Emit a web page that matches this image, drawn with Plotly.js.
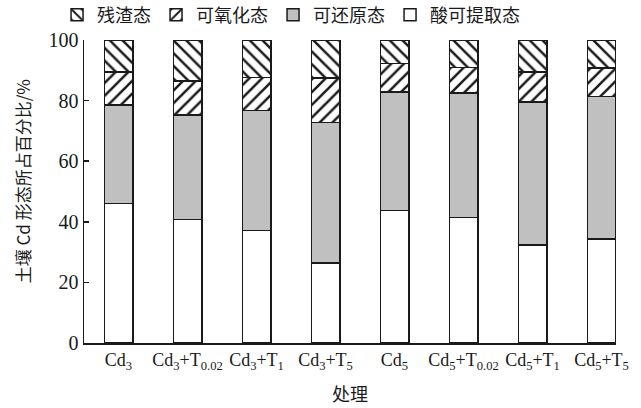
<!DOCTYPE html>
<html>
<head>
<meta charset="utf-8">
<script src="https://cdn.plot.ly/plotly-3.0.1.min.js"></script>
<style>
  html, body { margin: 0; padding: 0; background: #fff; }
  #chart { width: 641px; height: 408px; }
</style>
</head>
<body>
<div id="chart"></div>
<script>
// Treatments (x categories)
const treatments = [
  'Cd<sub>3</sub>',
  'Cd<sub>3</sub>+T<sub>0.02</sub>',
  'Cd<sub>3</sub>+T<sub>1</sub>',
  'Cd<sub>3</sub>+T<sub>5</sub>',
  'Cd<sub>5</sub>',
  'Cd<sub>5</sub>+T<sub>0.02</sub>',
  'Cd<sub>5</sub>+T<sub>1</sub>',
  'Cd<sub>5</sub>+T<sub>5</sub>'
];

// Share of each Cd fraction in soil (%), stacked bottom to top
const acidExtractable = [46.1, 40.8, 37.1, 26.4, 43.7, 41.5, 32.3, 34.4];
const reducible       = [32.5, 34.4, 39.7, 46.3, 39.1, 41.0, 47.2, 47.0];
const oxidizable      = [10.9, 11.2, 10.8, 14.8,  9.4,  8.4, 10.0,  9.4];
const residual        = [10.5, 13.6, 12.4, 12.5,  7.8,  9.1, 10.5,  9.2];

const seriesNames = ['酸可提取态', '可还原态', '可氧化态', '残渣态'];
const yTicks = [0, 20, 40, 60, 80, 100];

const outline = { color: '#1a1a1a', width: 1.5 };
const barWidth = 0.413;

function hatch(shape) {
  return { shape: shape, fgcolor: '#1a1a1a', bgcolor: '#ffffff', size: 9, solidity: 0.28 };
}

const traces = [
  {
    type: 'bar', name: seriesNames[0], x: treatments, y: acidExtractable, width: barWidth,
    marker: { color: '#ffffff', line: outline }
  },
  {
    type: 'bar', name: seriesNames[1], x: treatments, y: reducible, width: barWidth,
    marker: { color: '#c0c0c0', line: outline }
  },
  {
    type: 'bar', name: seriesNames[2], x: treatments, y: oxidizable, width: barWidth,
    marker: { color: '#ffffff', line: outline, pattern: hatch('/') }
  },
  {
    type: 'bar', name: seriesNames[3], x: treatments, y: residual, width: barWidth,
    marker: { color: '#ffffff', line: outline, pattern: hatch('\\') }
  }
];

const cjk = '"Noto Sans CJK SC", "Noto Sans", sans-serif';
const serif = '"Liberation Serif", "DejaVu Serif", serif';

const layout = {
  width: 641,
  height: 408,
  margin: { l: 83.5, r: 25, t: 40, b: 64.7, pad: 0, autoexpand: false },
  paper_bgcolor: '#ffffff',
  plot_bgcolor: '#ffffff',
  barmode: 'stack',
  showlegend: true,
  legend: {
    orientation: 'h',
    traceorder: 'reversed',
    xref: 'container', yref: 'container',
    x: 0.089, xanchor: 'left',
    y: 0.963, yanchor: 'middle',
    font: { family: cjk, size: 18, color: '#1a1a1a' },
    bgcolor: 'rgba(0,0,0,0)'
  },
  xaxis: {
    type: 'category',
    range: [-0.5, 7.21],
    showline: true, linecolor: '#1a1a1a', linewidth: 1.5,
    ticks: '', showgrid: false, zeroline: false,
    tickfont: { family: serif, size: 18, color: '#1a1a1a' },
    title: { text: '处理', font: { family: cjk, size: 18, color: '#1a1a1a' }, standoff: 16 }
  },
  yaxis: {
    range: [0, 100],
    tickvals: yTicks,
    ticktext: yTicks.map(String),
    showline: true, linecolor: '#1a1a1a', linewidth: 1.5,
    ticks: 'inside', ticklen: 5, tickwidth: 1.5, tickcolor: '#1a1a1a',
    showgrid: false, zeroline: false,
    tickfont: { family: serif, size: 20, color: '#1a1a1a' }
  },
  annotations: [
    {
      text: '土壤 Cd 形态所占百分比/%',
      xref: 'paper', yref: 'paper',
      x: -0.1155, y: 0.532,
      xanchor: 'center', yanchor: 'middle',
      textangle: -90, showarrow: false,
      font: { family: cjk, size: 17, color: '#1a1a1a' }
    }
  ]
};

Plotly.newPlot('chart', traces, layout, { staticPlot: true, displayModeBar: false });
</script>
</body>
</html>
